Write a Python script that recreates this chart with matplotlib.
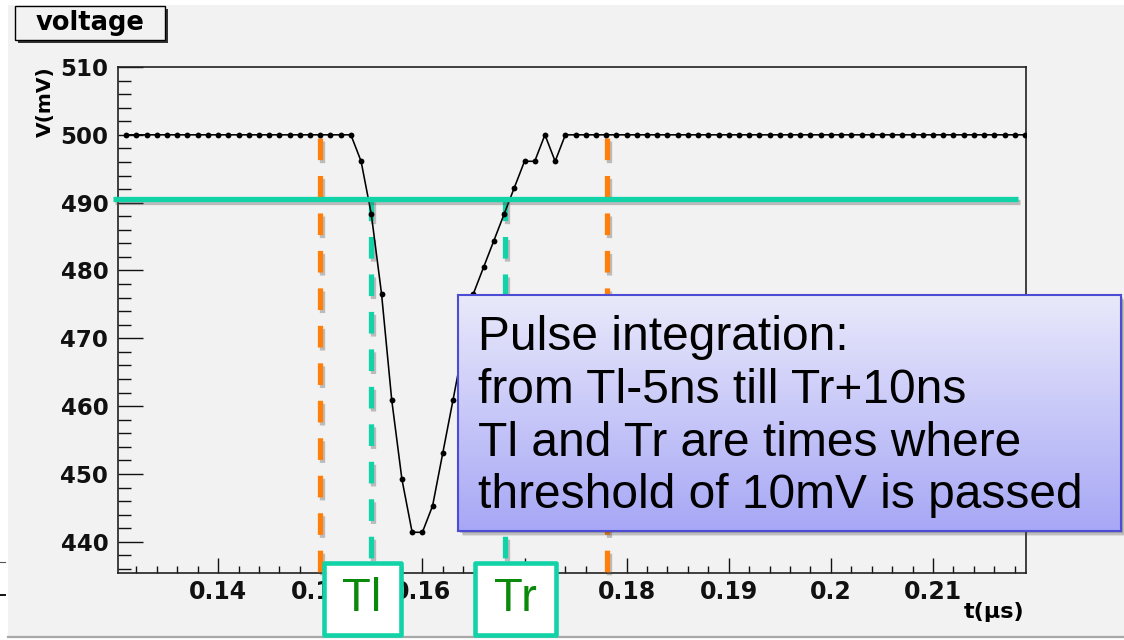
import numpy as np
import matplotlib
matplotlib.use("Agg")
import matplotlib.pyplot as plt
import matplotlib.patheffects as pe
from matplotlib.patches import Rectangle
from matplotlib.lines import Line2D
from matplotlib.colors import LinearSegmentedColormap
from matplotlib.ticker import MultipleLocator

# ---- sampled pulse (1 ns sampling) ----
t_start_us = 0.131
t_step_us = 0.001
voltage_mV = [
    500.0, 500.0, 500.0, 500.0, 500.0, 500.0, 500.0, 500.0, 500.0, 500.0,
    500.0, 500.0, 500.0, 500.0, 500.0, 500.0, 500.0, 500.0, 500.0, 500.0,
    500.0, 500.0, 500.0,
    496.1, 488.3, 476.6, 460.9, 449.2, 441.4, 441.4, 445.3, 453.1, 460.9,
    468.8, 476.6, 480.5, 484.4, 488.3, 492.2, 496.1, 496.1, 500.0, 496.1,
    500.0, 500.0, 500.0, 500.0, 500.0, 500.0, 500.0, 500.0, 500.0, 500.0,
    500.0, 500.0, 500.0, 500.0, 500.0, 500.0, 500.0, 500.0, 500.0, 500.0,
    500.0, 500.0, 500.0, 500.0, 500.0, 500.0, 500.0, 500.0, 500.0, 500.0,
    500.0, 500.0, 500.0, 500.0, 500.0, 500.0, 500.0, 500.0, 500.0, 500.0,
    500.0, 500.0, 500.0, 500.0, 500.0, 500.0,
]
time_us = t_start_us + t_step_us * np.arange(len(voltage_mV))

threshold_mV = 490.5
t_left = 0.1550     # Tl: threshold crossing on the falling edge
t_right = 0.1681    # Tr: threshold crossing on the rising edge
pre_window = 0.005   # 5 ns before Tl
post_window = 0.010  # 10 ns after Tr

x_ticks = [0.14, 0.15, 0.16, 0.17, 0.18, 0.19, 0.20, 0.21]
x_tick_labels = ["0.14", "0.15", "0.16", "0.17", "0.18", "0.19", "0.2", "0.21"]
y_ticks = [440, 450, 460, 470, 480, 490, 500, 510]
y_tick_labels = ["440", "450", "460", "470", "480", "490", "500", "510"]

note_lines = [
    "Pulse integration:",
    "from Tl-5ns till Tr+10ns",
    "Tl and Tr are times where",
    "threshold of 10mV is passed",
]

GREEN = "#12d3a8"
ORANGE = "#ff7f0a"
BG = "#f2f2f2"

W, H = 1124, 640
fig = plt.figure(figsize=(W / 100, H / 100), dpi=100, facecolor=BG)


def fx(x):
    return x / W


def fy(y):
    return 1 - y / H


# ---- page edges ----
fig.patches.append(Rectangle((0, fy(5)), 1, 5 / H, transform=fig.transFigure,
                             facecolor="white", edgecolor="none", zorder=0.5))
fig.patches.append(Rectangle((0, 0), 8 / W, 1, transform=fig.transFigure,
                             facecolor="white", edgecolor="none", zorder=0.5))
fig.patches.append(Rectangle((0, 0), 1, 3 / H, transform=fig.transFigure,
                             facecolor="white", edgecolor="none", zorder=0.5))
fig.lines.append(Line2D([fx(8), 1], [fy(636.5), fy(636.5)], transform=fig.transFigure,
                        color="#a8a8a8", lw=1.6, zorder=0.6))
fig.lines.append(Line2D([0, fx(5)], [fy(562), fy(562)], transform=fig.transFigure,
                        color="#555555", lw=0.8, zorder=0.6))
fig.lines.append(Line2D([0, fx(5)], [fy(595), fy(595)], transform=fig.transFigure,
                        color="#111111", lw=1.4, zorder=0.6))

# ---- main frame ----
ax = fig.add_axes([fx(118), fy(573), fx(1026) - fx(118), fy(67) - fy(573)])
ax.set_facecolor(BG)
ax.set_xlim(0.1302, 0.2191)
ax.set_ylim(435.4, 510)

ax.set_xticks(x_ticks)
ax.set_xticklabels(x_tick_labels, fontweight="bold", fontsize=17, family="DejaVu Sans")
ax.set_yticks(y_ticks)
ax.set_yticklabels(y_tick_labels, fontweight="bold", fontsize=16.5, family="DejaVu Sans")
ax.xaxis.set_minor_locator(MultipleLocator(0.002))
ax.yaxis.set_minor_locator(MultipleLocator(2))
ax.tick_params(which="both", direction="in", top=False, right=False, colors="#111111")
ax.tick_params(axis="x", which="major", length=11, width=1.0, pad=5)
ax.tick_params(axis="x", which="minor", length=5, width=1.0)
ax.tick_params(axis="y", which="major", length=18, width=1.0, pad=7)
ax.tick_params(axis="y", which="minor", length=9, width=1.0)
for s in ax.spines.values():
    s.set_linewidth(1.2)
    s.set_color("#222222")

# pulse samples
ax.plot(time_us, voltage_mV, color="black", lw=1.15, marker="o", ms=4.2,
        markeredgewidth=0, zorder=5)

shadow = [pe.SimpleLineShadow(offset=(1.5, -2.0), shadow_color="#555555", alpha=0.35),
          pe.Normal()]

# integration window limits
ylo = ax.get_ylim()[0]
for tx in (t_left - pre_window, t_right + post_window):
    ax.plot([tx, tx], [499.55, ylo], color=ORANGE, lw=3.8, ls=(0, (4.1, 3.0)),
            clip_on=False, zorder=3, path_effects=shadow)

# threshold crossings
for tx in (t_left, t_right):
    ax.plot([tx, tx], [threshold_mV, ylo], color=GREEN, lw=3.8, ls=(0, (4.1, 3.0)),
            clip_on=False, zorder=3, path_effects=shadow)

# threshold level
ax.plot([0.1297, 0.2183], [threshold_mV, threshold_mV], color=GREEN, lw=3.8,
        solid_capstyle="butt", clip_on=False, zorder=6, path_effects=shadow)

# axis titles
fig.text(fx(45), fy(66), "V(mV)", rotation=90, ha="center", va="top",
         fontsize=14.5, fontweight="bold", family="DejaVu Sans")
fig.text(fx(1024), fy(612), "t(μs)", ha="right", va="center",
         fontsize=16, fontweight="bold", family="DejaVu Sans")

# histogram title box
fig.patches.append(Rectangle((fx(18), fy(43)), 150 / W, 34 / H, transform=fig.transFigure,
                             facecolor="#333333", edgecolor="none", zorder=2))
fig.patches.append(Rectangle((fx(15), fy(40)), 150 / W, 34 / H, transform=fig.transFigure,
                             facecolor=BG, edgecolor="black", lw=1.0, zorder=2.1))
fig.text(fx(90), fy(23), "voltage", ha="center", va="center", fontsize=18.5,
         fontweight="bold", family="DejaVu Sans", zorder=2.2)

# ---- note box ----
bx0, by0, bx1, by1 = 458, 295, 1121, 531
for off, a in ((5, 0.12), (3.5, 0.18), (2, 0.25)):
    fig.patches.append(Rectangle((fx(bx0 + off), fy(by1 + off)), (bx1 - bx0) / W,
                                 (by1 - by0) / H, transform=fig.transFigure,
                                 facecolor="#404040", edgecolor="none", alpha=a, zorder=5.5))
ax_note = fig.add_axes([fx(bx0), fy(by1), (bx1 - bx0) / W, (by1 - by0) / H], zorder=6)
grad = np.linspace(0, 1, 256).reshape(-1, 1)
cmap = LinearSegmentedColormap.from_list("note", ["#e9e9fb", "#a7a7f6"])
ax_note.imshow(grad, aspect="auto", cmap=cmap, extent=(0, 1, 0, 1), origin="upper")
ax_note.set_xlim(0, 1)
ax_note.set_ylim(0, 1)
ax_note.set_xticks([])
ax_note.set_yticks([])
for s in ax_note.spines.values():
    s.set_color("#4c4cd4")
    s.set_linewidth(1.5)

for line, base in zip(note_lines, (350, 403, 456, 508)):
    fig.text(fx(478), fy(base), line, ha="left", va="baseline", fontsize=34.5,
             family="Liberation Sans", color="black", zorder=7)

# ---- Tl / Tr markers (they sit over the axis labels beneath them) ----
for label, (x0, x1), cx in (("Tl", (324, 401), 362), ("Tr", (475, 556), 515)):
    fig.patches.append(Rectangle((fx(x0), fy(635)), (x1 - x0) / W, (635 - 563) / H,
                                 transform=fig.transFigure, facecolor="white",
                                 edgecolor=GREEN, lw=3.3, joinstyle="round", zorder=8))
    fig.text(fx(cx), fy(599), label, ha="center", va="center", fontsize=34,
             family="Liberation Sans", color="#0a890a", zorder=9)

fig.savefig("out.png", dpi=100, facecolor=fig.get_facecolor())
